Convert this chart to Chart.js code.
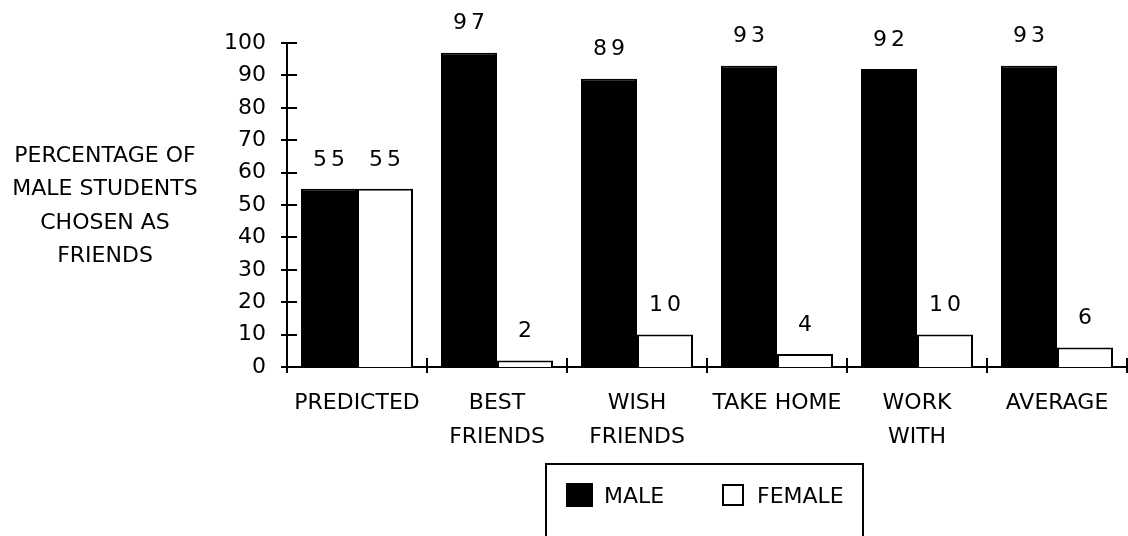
<!DOCTYPE html>
<html>
<head>
<meta charset="utf-8">
<script src="https://cdn.jsdelivr.net/npm/chart.js@4.4.1/dist/chart.umd.min.js"></script>
<style>
  html, body { margin: 0; padding: 0; background: #fff; }
  #wrap { width: 1128px; height: 536px; position: relative; }
</style>
</head>
<body>
<div id="wrap"><canvas id="c"></canvas></div>
<script>
const categories = [["PREDICTED"], ["BEST", "FRIENDS"], ["WISH", "FRIENDS"], ["TAKE HOME"], ["WORK", "WITH"], ["AVERAGE"]];
const maleValues = [55, 97, 89, 93, 92, 93];
const femaleValues = [55, 2, 10, 4, 10, 6];
const seriesNames = ["MALE", "FEMALE"];
const yTitleLines = ["PERCENTAGE OF", "MALE STUDENTS", "CHOSEN AS", "FRIENDS"];

const FONT = '"DejaVu Sans", Verdana, sans-serif';

const crossTicks = {
  id: 'crossTicks',
  afterDraw(chart) {
    const ctx = chart.ctx;
    const x = chart.scales.x, y = chart.scales.y;
    const area = chart.chartArea;
    ctx.save();
    ctx.strokeStyle = '#000';
    ctx.lineWidth = 2;
    ctx.beginPath();
    y.ticks.forEach(t => {
      const py = Math.round(y.getPixelForValue(t.value));
      ctx.moveTo(area.left - 6, py);
      ctx.lineTo(area.left + 10, py);
    });
    const n = categories.length;
    const half = (x.getPixelForValue(1) - x.getPixelForValue(0)) / 2;
    for (let i = 0; i <= n; i++) {
      const px = Math.round(x.getPixelForValue(i) - half);
      ctx.moveTo(px, area.bottom - 9);
      ctx.lineTo(px, area.bottom + 6);
    }
    ctx.stroke();
    ctx.restore();
  }
};

const valueLabels = {
  id: 'valueLabels',
  afterDatasetsDraw(chart) {
    const ctx = chart.ctx;
    ctx.save();
    ctx.font = '22px ' + FONT;
    ctx.fillStyle = '#000';
    ctx.textAlign = 'center';
    ctx.textBaseline = 'middle';
    try { ctx.letterSpacing = '4px'; } catch (e) {}
    chart.data.datasets.forEach((ds, di) => {
      const meta = chart.getDatasetMeta(di);
      meta.data.forEach((el, i) => {
        ctx.fillText(String(ds.data[i]), el.x + 2, el.y - 29);
      });
    });
    ctx.restore();
  }
};

const sideTitle = {
  id: 'sideTitle',
  afterDraw(chart) {
    const ctx = chart.ctx;
    ctx.save();
    ctx.font = '22px ' + FONT;
    ctx.fillStyle = '#000';
    ctx.textAlign = 'center';
    ctx.textBaseline = 'middle';
    yTitleLines.forEach((line, i) => {
      ctx.fillText(line, 105, 156 + i * 33.5);
    });
    ctx.restore();
  }
};

const boxLegend = {
  id: 'boxLegend',
  afterDraw(chart) {
    const ctx = chart.ctx;
    const area = chart.chartArea;
    const cx = (area.left + area.right) / 2;
    const left = cx - 161, right = cx + 156, top = 464;
    ctx.save();
    ctx.strokeStyle = '#000';
    ctx.lineWidth = 2;
    ctx.beginPath();
    ctx.moveTo(left, chart.height + 5);
    ctx.lineTo(left, top);
    ctx.lineTo(right, top);
    ctx.lineTo(right, chart.height + 5);
    ctx.stroke();
    // male swatch
    const ds = chart.data.datasets;
    ctx.fillStyle = ds[0].backgroundColor;
    ctx.fillRect(left + 20, 483, 27, 24);
    // female swatch
    ctx.fillStyle = ds[1].backgroundColor;
    ctx.fillRect(left + 177, 485, 20, 20);
    ctx.strokeRect(left + 177, 485, 20, 20);
    ctx.font = '22px ' + FONT;
    ctx.fillStyle = '#000';
    ctx.textAlign = 'left';
    ctx.textBaseline = 'middle';
    ctx.fillText(ds[0].label, left + 58, 497);
    ctx.fillText(ds[1].label, left + 211, 497);
    ctx.restore();
  }
};

new Chart(document.getElementById('c'), {
  type: 'bar',
  data: {
    labels: categories,
    datasets: [
      { label: seriesNames[0], data: maleValues, backgroundColor: '#000000', borderColor: '#000000', borderWidth: 2 },
      { label: seriesNames[1], data: femaleValues, backgroundColor: '#ffffff', borderColor: '#000000', borderWidth: 2 }
    ]
  },
  options: {
    responsive: true,
    maintainAspectRatio: false,
    animation: false,
    devicePixelRatio: 1,
    layout: { padding: { top: 43, right: 1, left: 0, bottom: 0 } },
    datasets: { bar: { categoryPercentage: 0.8, barPercentage: 1.0 } },
    plugins: { legend: { display: false }, tooltip: { enabled: false }, title: { display: false } },
    scales: {
      x: {
        grid: { display: false, drawTicks: false },
        border: { display: true, color: '#000', width: 2 },
        ticks: {
          color: '#000',
          font: { family: FONT, size: 22, lineHeight: 1.545 },
          padding: 19,
          maxRotation: 0,
          autoSkip: false
        },
        afterFit(scale) { scale.height = 169; }
      },
      y: {
        min: 0, max: 100,
        grid: { display: false, drawTicks: false },
        border: { display: true, color: '#000', width: 2 },
        ticks: {
          stepSize: 10,
          color: '#000',
          font: { family: FONT, size: 22 },
          padding: 21
        },
        afterFit(scale) { scale.width = 287; }
      }
    }
  },
  plugins: [crossTicks, valueLabels, sideTitle, boxLegend]
});
</script>
</body>
</html>
